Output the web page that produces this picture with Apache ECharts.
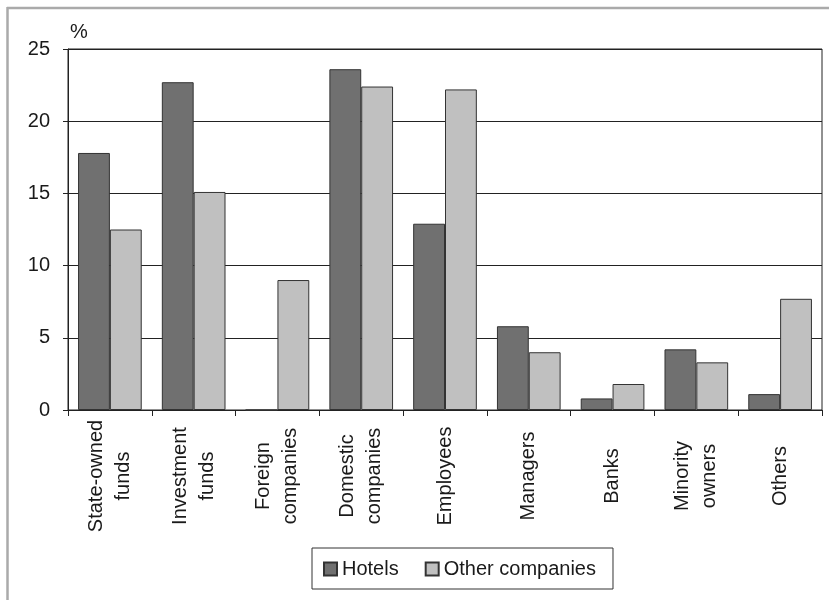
<!DOCTYPE html>
<html>
<head>
<meta charset="utf-8">
<script src="https://cdn.jsdelivr.net/npm/echarts@6/dist/echarts.min.js"></script>
<style>
html,body{margin:0;padding:0;background:#fff;}
#chart{width:829px;height:600px;}
</style>
</head>
<body>
<div id="chart"></div>
<script>
const categories = ["State-owned\nfunds", "Investment\nfunds", "Foreign\ncompanies", "Domestic\ncompanies", "Employees", "Managers", "Banks", "Minority\nowners", "Others"];
const hotels = [17.8, 22.7, 0, 23.6, 12.9, 5.8, 0.8, 4.2, 1.1];
const otherCompanies = [12.5, 15.1, 9.0, 22.4, 22.2, 4.0, 1.8, 3.3, 7.7];
const yTicks = [0, 5, 10, 15, 20, 25];

const FONT = '"Liberation Sans", Arial, sans-serif';
const FS = 20;
const chart = echarts.init(document.getElementById('chart'), null, {renderer: 'canvas'});
chart.setOption({
  animation: false,
  backgroundColor: '#fff',
  textStyle: {fontFamily: FONT},
  grid: {left: 68, right: 7, top: 49, bottom: 190, show: true, borderColor: '#222', borderWidth: 1, backgroundColor: 'transparent'},
  legend: {
    left: 312, top: 548,
    orient: 'horizontal',
    itemWidth: 13, itemHeight: 13, itemGap: 26,
    padding: [11, 17, 10, 11],
    borderColor: '#333', borderWidth: 1,
    textStyle: {fontFamily: FONT, fontSize: FS, color: '#1a1a1a'},
    data: [{name: 'Hotels', icon: 'rect'}, {name: 'Other companies', icon: 'rect'}]
  },
  graphic: [
    {type: 'line', shape: {x1: 7, y1: 8, x2: 829, y2: 8}, style: {stroke: '#aaaaaa', lineWidth: 2.5}},
    {type: 'line', shape: {x1: 7.5, y1: 7, x2: 7.5, y2: 600}, style: {stroke: '#aaaaaa', lineWidth: 2.5}},
    {type: 'text', left: 70, top: 22, style: {text: '%', font: FS + 'px ' + FONT, fill: '#1a1a1a'}}
  ],
  xAxis: {
    type: 'category',
    data: categories,
    axisLine: {lineStyle: {color: '#222', width: 1}},
    axisTick: {show: true, length: 6, lineStyle: {color: '#222'}},
    axisLabel: {rotate: 90, align: 'center', verticalAlign: 'middle', margin: 66, fontSize: FS, lineHeight: 27, color: '#1a1a1a', fontFamily: FONT, interval: 0}
  },
  yAxis: {
    type: 'value',
    min: 0, max: 25, interval: 5,
    axisLine: {show: true, lineStyle: {color: '#222', width: 1}},
    axisTick: {show: true, length: 5, lineStyle: {color: '#222'}},
    axisLabel: {margin: 18, fontSize: FS, color: '#1a1a1a', fontFamily: FONT,
      formatter: v => yTicks.includes(v) ? String(v) : ''},
    splitLine: {show: true, lineStyle: {color: '#222', width: 1}}
  },
  series: [
    {name: 'Hotels', type: 'bar', data: hotels, barGap: '0%', barCategoryGap: '24%',
      itemStyle: {color: '#707070', borderColor: '#333', borderWidth: 1}},
    {name: 'Other companies', type: 'bar', data: otherCompanies, barGap: '0%', barCategoryGap: '24%',
      itemStyle: {color: '#c0c0c0', borderColor: '#333', borderWidth: 1}}
  ]
});
</script>
</body>
</html>
